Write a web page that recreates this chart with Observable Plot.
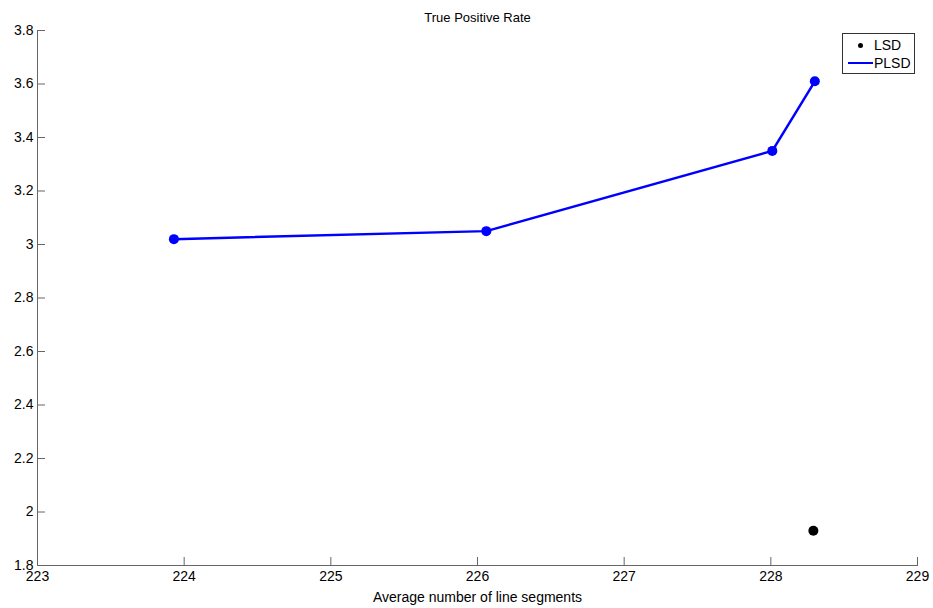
<!DOCTYPE html>
<html><head><meta charset="utf-8">
<script src="https://cdn.jsdelivr.net/npm/d3@7"></script>
<script src="https://cdn.jsdelivr.net/npm/@observablehq/plot@0.6"></script>
<style>
body{margin:0;background:#fff;font-family:"Liberation Sans",Arial,sans-serif;}
#wrap{position:relative;width:933px;height:608px;}
#legend{position:absolute;left:842px;top:33px;width:71px;height:39px;border:1px solid #333;background:#fff;font-size:14px;}
#legend div{position:absolute;left:0;height:18px;line-height:18px;}
</style>
</head><body>
<div id="wrap"></div>
<script>
const title = "True Positive Rate";
const xLabel = "Average number of line segments";
const plsdX = [223.93, 226.06, 228.01, 228.30];
const plsdY = [3.02, 3.05, 3.35, 3.61];
const lsdX = [228.29];
const lsdY = [1.93];
const xTicks = [223, 224, 225, 226, 227, 228, 229];
const yTicks = [1.8, 2, 2.2, 2.4, 2.6, 2.8, 3, 3.2, 3.4, 3.6, 3.8];

const plsd = plsdX.map((x, i) => ({x, y: plsdY[i]}));
const lsd = lsdX.map((x, i) => ({x, y: lsdY[i]}));

const chart = Plot.plot({
  width: 933, height: 608,
  marginLeft: 37, marginRight: 16, marginTop: 30, marginBottom: 43,
  style: {fontFamily: '"Liberation Sans", Arial, sans-serif', fontSize: "14px", color: "#000", background: "#fff"},
  x: {domain: [223, 229]},
  y: {domain: [1.8, 3.8]},
  marks: [
    Plot.axisX({ticks: xTicks, tickSize: -8, tickPadding: 14, stroke: "#666", label: xLabel, labelAnchor: "center", labelArrow: "none", labelOffset: 36, fill: "#000", tickFormat: d => String(d)}),
    Plot.axisY({ticks: yTicks, tickSize: -8, tickPadding: 12, stroke: "#666", label: null, fill: "#000", tickFormat: d => String(d)}),
    Plot.frame({anchor: "left", stroke: "#666"}),
    Plot.frame({anchor: "bottom", stroke: "#666"}),
    Plot.line(plsd, {x: "x", y: "y", stroke: "#0000ff", strokeWidth: 2.5}),
    Plot.dot(plsd, {x: "x", y: "y", r: 5, fill: "#0000ff", stroke: "none"}),
    Plot.dot(lsd, {x: "x", y: "y", r: 5, fill: "#000", stroke: "none"}),
    Plot.text([title], {frameAnchor: "top", dy: -18, fontSize: 13, fill: "#000"})
  ]
});
const wrap = document.getElementById("wrap");
wrap.appendChild(chart);
const lg = document.createElement("div");
lg.id = "legend";
lg.innerHTML = '<div style="top:2px;width:71px"><span style="position:absolute;left:15px;top:7px;width:5px;height:5px;border-radius:50%;background:#000"></span><span style="position:absolute;left:31px">LSD</span></div>' +
  '<div style="top:20px;width:71px"><span style="position:absolute;left:5px;top:8px;width:25px;height:2px;background:#0000ff"></span><span style="position:absolute;left:31px">PLSD</span></div>';
wrap.appendChild(lg);
</script>
</body></html>
